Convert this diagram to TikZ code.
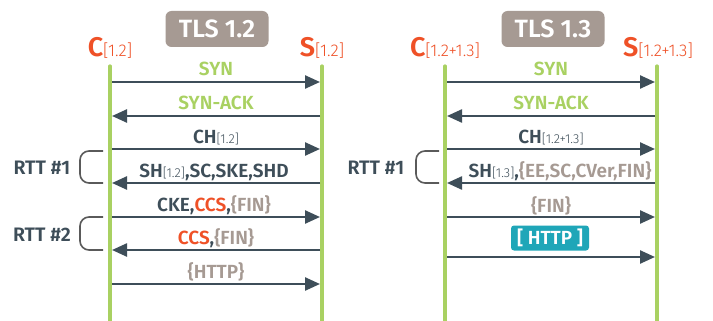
\documentclass[tikz,border=0pt]{standalone}
\usepackage{fontspec}
\setmainfont{Fira Sans}
\IfFontExistsTF{Fira Sans SemiBold}
  {\newfontfamily\heavy{Fira Sans SemiBold}}
  {\newfontfamily\heavy{Fira Sans}[UprightFont=*Bold]}
\IfFontExistsTF{Fira Sans Light}
  {\newfontfamily\thin{Fira Sans Light}}
  {\newfontfamily\thin{Fira Sans}}
\usetikzlibrary{arrows.meta}
\definecolor{lime}{HTML}{A9D162}
\definecolor{slate}{HTML}{3E4E59}
\definecolor{flame}{HTML}{EF5127}
\definecolor{stone}{HTML}{A69A93}
\definecolor{teal2}{HTML}{1FA6B8}
\definecolor{brk}{HTML}{5A5A5A}
\newcommand{\sub}[1]{{\thin\fontsize{13}{13}\selectfont[#1]}}
\newcommand{\gr}[1]{\textcolor{stone}{#1}}
\newcommand{\rd}[1]{\textcolor{flame}{#1}}
\newcommand{\ver}[1]{{\thin\fontsize{17}{17}\selectfont[#1]}}
\begin{document}
\begin{tikzpicture}[x=1pt,y=-1pt,
  lifeline/.style={draw=lime,line width=3.2pt,line cap=round},
  msg/.style={draw=slate,line width=2.4pt,-{Triangle[length=15pt,width=13pt]}},
  lbl/.style={anchor=base,inner sep=0pt,font=\heavy\fontsize{19}{19}\selectfont,text=slate},
  title/.style={fill=stone,rounded corners=6pt,text=white,minimum width=103pt,minimum height=36pt,inner sep=0pt,font=\heavy\fontsize{25}{25}\selectfont},
  party/.style={anchor=base,inner sep=0pt,text=flame,font=\heavy\fontsize{27}{27}\selectfont},
  rtt/.style={anchor=base,inner sep=0pt,text=slate,font=\heavy\fontsize{19.5}{19.5}\selectfont},
  bracket/.style={draw=brk,line width=1.6pt,rounded corners=9pt}]
\useasboundingbox (0,0) rectangle (713,321);
\fill[white] (0,0) rectangle (713,321);

% ---------- TLS 1.2 ----------
\node[title] (t12) at (217,29) {TLS 1.2};
\node[party] (c12) at (110,57) {C\ver{1.2}};
\node[party] (s12) at (322,57) {S\ver{1.2}};
\coordinate (c12top) at (110,66); \coordinate (c12bot) at (110,324);
\coordinate (s12top) at (322,66); \coordinate (s12bot) at (322,324);
\draw[lifeline] (c12top) -- (c12bot);
\draw[lifeline] (s12top) -- (s12bot);

\foreach \n/\y in {a/82,b/116,c/149,d/183,e/217,f/250,g/284}{
  \coordinate (lc\n) at (112,\y);
  \coordinate (ls\n) at (320,\y);
}
\draw[msg] (lca) -- (lsa);
\draw[msg] (lsb) -- (lcb);
\draw[msg] (lcc) -- (lsc);
\draw[msg] (lsd) -- (lcd);
\draw[msg] (lce) -- (lse);
\draw[msg] (lsf) -- (lcf);
\draw[msg] (lcg) -- (lsg);

\node[lbl,text=lime] (m1) at (216,76) {SYN};
\node[lbl,text=lime] (m2) at (216,110) {SYN-ACK};
\node[lbl] (m3) at (216,143) {CH\sub{1.2}};
\node[lbl] (m4) at (214,177) {SH\sub{1.2},SC,SKE,SHD};
\node[lbl] (m5) at (214,211) {CKE,\rd{CCS},\gr{\{FIN\}}};
\node[lbl] (m6) at (216,244) {\rd{CCS},\gr{\{FIN\}}};
\node[lbl] (m7) at (216,278) {\gr{\{HTTP\}}};

\draw[bracket] (103,151) -- (80,151) -- (80,183) -- (103,183);
\draw[bracket] (103,217) -- (80,217) -- (80,250) -- (103,250);
\node[rtt] (r1) at (42,174) {RTT \#1};
\node[rtt] (r2) at (42,241) {RTT \#2};

% ---------- TLS 1.3 ----------
\node[title] (t13) at (553,29) {TLS 1.3};
\node[party] (c13) at (445,57) {C\ver{1.2+1.3}};
\node[party] (s13) at (658,57) {S\ver{1.2+1.3}};
\coordinate (c13top) at (445,66); \coordinate (c13bot) at (445,324);
\coordinate (s13top) at (657,66); \coordinate (s13bot) at (657,324);
\draw[lifeline] (c13top) -- (c13bot);
\draw[lifeline] (s13top) -- (s13bot);

\foreach \n/\y in {a/82,b/116,c/149,d/183,e/217,f/257}{
  \coordinate (rc\n) at (447,\y);
  \coordinate (rs\n) at (655,\y);
}
\draw[msg] (rca) -- (rsa);
\draw[msg] (rsb) -- (rcb);
\draw[msg] (rcc) -- (rsc);
\draw[msg] (rsd) -- (rcd);
\draw[msg] (rce) -- (rse);
\draw[msg] (rcf) -- (rsf);

\node[lbl,text=lime] (n1) at (551,76) {SYN};
\node[lbl,text=lime] (n2) at (551,110) {SYN-ACK};
\node[lbl] (n3) at (551,143) {CH\sub{1.2+1.3}};
\node[lbl] (n4) at (560,177) {SH\sub{1.3},\gr{\{EE,SC,CVer,FIN\}}};
\node[lbl] (n5) at (551,212) {\gr{\{FIN\}}};
\node[fill=teal2,rounded corners=3pt,text=white,minimum width=78pt,minimum height=25pt,inner sep=0pt,font=\heavy\fontsize{19}{19}\selectfont] (http) at (550,238) {[ HTTP ]};

\draw[bracket] (439,151) -- (416,151) -- (416,183) -- (439,183);
\node[rtt] (r3) at (376,174) {RTT \#1};
\end{tikzpicture}
\end{document}
